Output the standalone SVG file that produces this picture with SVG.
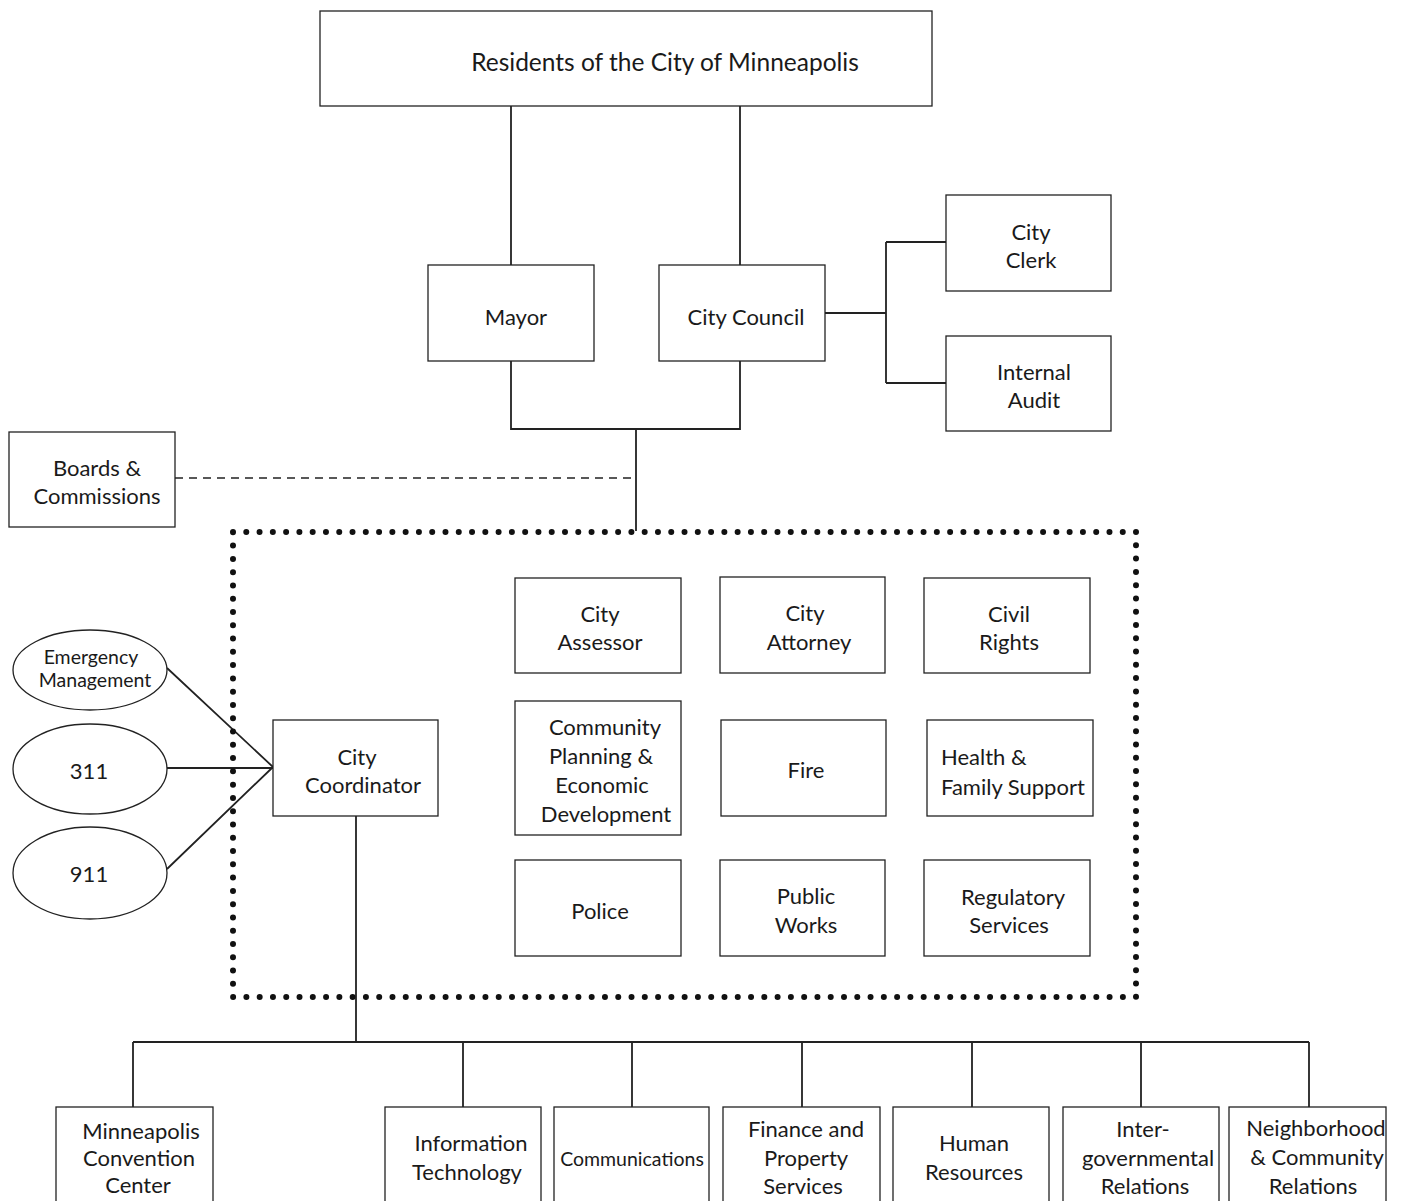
<svg xmlns="http://www.w3.org/2000/svg" width="1404" height="1201" viewBox="0 0 1404 1201">
<style>
.box{fill:#fff;stroke:#222;stroke-width:1.3}
.ell{fill:#fff;stroke:#222;stroke-width:1.3}
.ln{fill:none;stroke:#222;stroke-width:1.8}
.dash{fill:none;stroke:#222;stroke-width:1.5;stroke-dasharray:8 6}
.dot{fill:none;stroke:#111;stroke-width:6;stroke-linecap:round}
text{font-family:Lato,"Liberation Sans",sans-serif;font-size:22px;fill:#1a1a1a;text-anchor:middle;dominant-baseline:central}
.sm{font-size:19.5px}
.lg{font-size:24.5px}
</style>
<rect width="1404" height="1201" fill="#fff"/>
<g id="connectors">
<path class="ln" d="M511 106V265M740 106V265"/>
<path class="ln" d="M511 361V429H740V361M636 429V531"/>
<path class="dash" d="M175 478H636"/>
<path class="ln" d="M825 313H886M886 242V383M886 242H946M886 383H946"/>
<path class="ln" d="M167 668L273 767M167 768H273M167 869L273 767"/>
<path class="ln" d="M356 816V1042M133 1042H1309M133 1042V1107M463 1042V1107M632 1042V1107M802 1042V1107M972 1042V1107M1141 1042V1107M1309 1042V1107"/>
</g>
<g id="dept-group"><rect class="dot" x="233" y="532" width="903" height="465" stroke-dasharray="0 13.28"/></g>
<g id="residents"><rect class="box" x="320" y="11" width="612" height="95"/><text class="lg" x="665" y="61">Residents of the City of Minneapolis</text></g>
<g id="mayor"><rect class="box" x="428" y="265" width="166" height="96"/><text x="516" y="316">Mayor</text></g>
<g id="council"><rect class="box" x="659" y="265" width="166" height="96"/><text x="746" y="316">City Council</text></g>
<g id="clerk"><rect class="box" x="946" y="195" width="165" height="96"/><text x="1031" y="231">City</text><text x="1031" y="259">Clerk</text></g>
<g id="audit"><rect class="box" x="946" y="336" width="165" height="95"/><text x="1034" y="371">Internal</text><text x="1034" y="399">Audit</text></g>
<g id="boards"><rect class="box" x="9" y="432" width="166" height="95"/><text x="97" y="467">Boards &amp;</text><text x="97" y="495">Commissions</text></g>
<g id="assessor"><rect class="box" x="515" y="578" width="166" height="95"/><text x="600" y="613">City</text><text x="600" y="641">Assessor</text></g>
<g id="attorney"><rect class="box" x="720" y="577" width="165" height="96"/><text x="805" y="612">City</text><text x="809" y="641">Attorney</text></g>
<g id="civil"><rect class="box" x="924" y="578" width="166" height="95"/><text x="1009" y="613">Civil</text><text x="1009" y="641">Rights</text></g>
<g id="cped"><rect class="box" x="515" y="701" width="166" height="134"/><text x="605" y="726">Community</text><text x="601" y="755">Planning &amp;</text><text x="602" y="784">Economic</text><text x="606" y="813">Development</text></g>
<g id="fire"><rect class="box" x="721" y="720" width="165" height="96"/><text x="806" y="769">Fire</text></g>
<g id="health"><rect class="box" x="927" y="720" width="166" height="96"/><text x="941" y="756" style="text-anchor:start">Health &amp;</text><text x="941" y="786" style="text-anchor:start">Family Support</text></g>
<g id="police"><rect class="box" x="515" y="860" width="166" height="96"/><text x="600" y="910">Police</text></g>
<g id="publicworks"><rect class="box" x="720" y="860" width="165" height="96"/><text x="806" y="895">Public</text><text x="806" y="924">Works</text></g>
<g id="regulatory"><rect class="box" x="924" y="860" width="166" height="96"/><text x="1013" y="896">Regulatory</text><text x="1009" y="924">Services</text></g>
<g id="coordinator"><rect class="box" x="273" y="720" width="165" height="96"/><text x="357" y="756">City</text><text x="363" y="784">Coordinator</text></g>
<g id="emergency"><ellipse class="ell" cx="90" cy="670" rx="77" ry="40"/><text class="sm" x="91" y="656">Emergency</text><text class="sm" x="95" y="679">Management</text></g>
<g id="n311"><ellipse class="ell" cx="90" cy="769" rx="77" ry="45"/><text x="89" y="770">311</text></g>
<g id="n911"><ellipse class="ell" cx="90" cy="873" rx="77" ry="46"/><text x="89" y="873">911</text></g>
<g id="convention"><rect class="box" x="56" y="1107" width="157" height="110"/><text x="141" y="1130">Minneapolis</text><text x="139" y="1157">Convention</text><text x="138" y="1184">Center</text></g>
<g id="it"><rect class="box" x="385" y="1107" width="156" height="110"/><text x="471" y="1142">Information</text><text x="467" y="1171">Technology</text></g>
<g id="comms"><rect class="box" x="554" y="1107" width="155" height="110"/><text class="sm" x="632" y="1158">Communications</text></g>
<g id="finance"><rect class="box" x="723" y="1107" width="157" height="110"/><text x="806" y="1128">Finance and</text><text x="806" y="1157">Property</text><text x="803" y="1185">Services</text></g>
<g id="hr"><rect class="box" x="893" y="1107" width="156" height="110"/><text x="974" y="1142">Human</text><text x="974" y="1171">Resources</text></g>
<g id="igr"><rect class="box" x="1063" y="1107" width="156" height="110"/><text x="1143" y="1128">Inter-</text><text x="1148" y="1157">governmental</text><text x="1145" y="1185">Relations</text></g>
<g id="ncr"><rect class="box" x="1229" y="1107" width="157" height="110"/><text x="1316" y="1127">Neighborhood</text><text x="1317" y="1156">&amp; Community</text><text x="1313" y="1185">Relations</text></g>
</svg>
